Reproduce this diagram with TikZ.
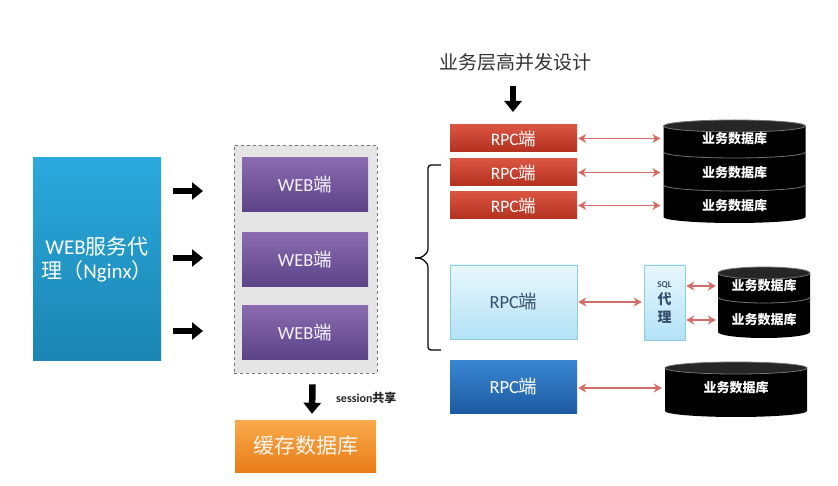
\documentclass[tikz,border=0pt]{standalone}
\usepackage{fontspec}
\setmainfont{Noto Sans CJK SC}
\newfontfamily\lat{Carlito}
\usetikzlibrary{arrows.meta,calc}
\definecolor{nginxT}{HTML}{2AA9DC}
\definecolor{nginxB}{HTML}{1B85B3}
\definecolor{webT}{HTML}{8A6BB0}
\definecolor{webB}{HTML}{5C4287}
\definecolor{redT}{HTML}{DA5541}
\definecolor{redB}{HTML}{B3301F}
\definecolor{lbT}{HTML}{E8F7FD}
\definecolor{lbB}{HTML}{B3E2F5}
\definecolor{lbD}{HTML}{8CCBE6}
\definecolor{dbT}{HTML}{3A86D0}
\definecolor{dbB}{HTML}{1C5BA4}
\definecolor{orT}{HTML}{F9AA4C}
\definecolor{orB}{HTML}{EA7D18}
\definecolor{arr}{HTML}{D56B66}
\definecolor{txtdark}{HTML}{34506E}
\newcommand{\fs}[1]{\fontsize{#1}{#1}\selectfont}
% cx, top ellipse centre y, bottom ellipse centre y, rx
\newcommand{\dbcyl}[4]{%
  \fill[black] (#1-#4,#2) -- (#1-#4,#3) arc[start angle=180,end angle=0,x radius=#4,y radius=6] -- (#1+#4,#2) -- cycle;
  \filldraw[fill=black!85,draw=black!55,line width=0.8] (#1,#2) ellipse[x radius=#4,y radius=6];
}
\newcommand{\dbsep}[3]{% cx, y, rx
  \draw[black!55,line width=0.8] (#1-#3,#2) arc[start angle=180,end angle=0,x radius=#3,y radius=6];
}
\begin{document}
\begin{tikzpicture}[x=1pt,y=-1pt,
  box/.style={rectangle,inner sep=0pt,draw=none},
  nginxbox/.style={box,top color=nginxT,bottom color=nginxB,text=white,align=center,font=\fs{21}},
  webbox/.style={box,top color=webT,bottom color=webB,text=white!92!webT,font=\fs{18.5},minimum width=126,minimum height=54},
  redbox/.style={box,top color=redT,bottom color=redB,text=white,font=\fs{17.5},minimum width=127,minimum height=27},
  lbbox/.style={box,top color=lbT,bottom color=lbB,draw=lbD,line width=0.6,text=txtdark},
  darkbox/.style={box,top color=dbT,bottom color=dbB,text=white,font=\fs{18.5},minimum width=127,minimum height=53},
  orbox/.style={box,top color=orT,bottom color=orB,text=white!90!orT,font=\fs{21},minimum width=141,minimum height=52},
  dbtext/.style={box,text=white,font=\fs{13}\bfseries,minimum height=26},
  blockarrow/.style={draw=black,line width=6.5pt,-{Triangle[width=17pt,length=11pt]}},
  dblarrow/.style={draw=arr,line width=1.6pt,{Stealth[length=8pt,width=9pt]}-{Stealth[length=8pt,width=9pt]}},
]
\useasboundingbox (0,0) rectangle (838,486);
\fill[white] (0,0) rectangle (838,486);

% left: nginx
\node[nginxbox,minimum width=128,minimum height=202] (nginx) at (97,259) {{\lat WEB}服务代\\[3pt]理（{\lat Nginx}）};

% container with web nodes
\node[box,fill=black!10,draw=black!55,dashed,line width=0.8,minimum width=143,minimum height=228] (cont) at (305.5,259) {};
\node[webbox] (web1) at (305,185) {{\lat WEB}端};
\node[webbox] (web2) at (305,260) {{\lat WEB}端};
\node[webbox] (web3) at (305,332.5) {{\lat WEB}端};

\coordinate (a1) at (173,191);
\coordinate (a2) at (173,258);
\coordinate (a3) at (173,331);
\draw[blockarrow] (a1) -- ++(30,0);
\draw[blockarrow] (a2) -- ++(30,0);
\draw[blockarrow] (a3) -- ++(30,0);

% cache
\node[orbox] (cache) at (305.5,446) {缓存数据库};
\draw[blockarrow] ($(cont.south)+(7,11)$) coordinate (s1) -- ($(cache.north)+(6.5,-6)$);
\node[box,font=\fs{12}\bfseries,text=black!85,anchor=west] (sess) at (336,398) {{\lat session}共享};

% brace
\draw[line width=1.2pt,rounded corners=3pt] (441,165) -- (428,165) -- (428,252) -- (421,258) -- (415,258);
\draw[line width=1.2pt,rounded corners=3pt] (415,258) -- (421,258) -- (428,264) -- (428,350) -- (441,350);

% title
\node[box,font=\fs{19},text=black!80] (title) at (515,62) {业务层高并发设计};
\draw[blockarrow] (513,86) -- (513,112);

% red rpc
\node[redbox] (rpc1) at (513.5,138.5) {{\lat RPC}端};
\node[redbox] (rpc2) at (513.5,172.5) {{\lat RPC}端};
\node[redbox] (rpc3) at (513.5,205.5) {{\lat RPC}端};

% DB stack 1
\dbcyl{734.5}{126}{217}{71}
\dbsep{734.5}{152}{71}
\dbsep{734.5}{185}{71}
\node[dbtext,minimum width=142] (db1) at (734.5,139) {业务数据库};
\node[dbtext,minimum width=142] (db2) at (734.5,173) {业务数据库};
\node[dbtext,minimum width=142] (db3) at (734.5,206) {业务数据库};

\draw[dblarrow] ([xshift=1pt]rpc1.east) -- ([xshift=-3pt]rpc1.east -| db1.west);
\draw[dblarrow] ([xshift=1pt]rpc2.east) -- ([xshift=-3pt]rpc2.east -| db2.west);
\draw[dblarrow] ([xshift=1pt]rpc3.east) -- ([xshift=-3pt]rpc3.east -| db3.west);

% light blue rpc + sql proxy
\node[lbbox,font=\fs{18.5},minimum width=127,minimum height=74] (rpcL) at (513.5,302) {{\lat RPC}端};
\node[lbbox,minimum width=41,minimum height=75,align=center,font=\bfseries] (sql) at (664.5,302.5) {{\fs{9}\lat SQL}\\[3pt]{\fs{14}代}\\[4pt]{\fs{14}理}};
\draw[dblarrow] ([xshift=1pt]rpcL.east) -- ([xshift=-2pt]rpcL.east -| sql.west);

\dbcyl{764}{273}{332}{46}
\dbsep{764}{297}{46}
\node[dbtext,minimum width=92] (db4) at (764,286) {业务数据库};
\node[dbtext,minimum width=92] (db5) at (764,320) {业务数据库};
\draw[dblarrow] ([xshift=1pt]sql.east |- db4.west) -- ([xshift=-2pt]db4.west);
\draw[dblarrow] ([xshift=1pt]sql.east |- db5.west) -- ([xshift=-2pt]db5.west);

% dark blue rpc
\node[darkbox] (rpcD) at (513.5,386.5) {{\lat RPC}端};
\dbcyl{736}{368}{411}{71}
\node[dbtext,minimum width=142] (db6) at (736,388) {业务数据库};
\draw[dblarrow] ([xshift=1pt]rpcD.east |- db6.west) -- ([xshift=-3pt]db6.west);
\end{tikzpicture}
\end{document}
